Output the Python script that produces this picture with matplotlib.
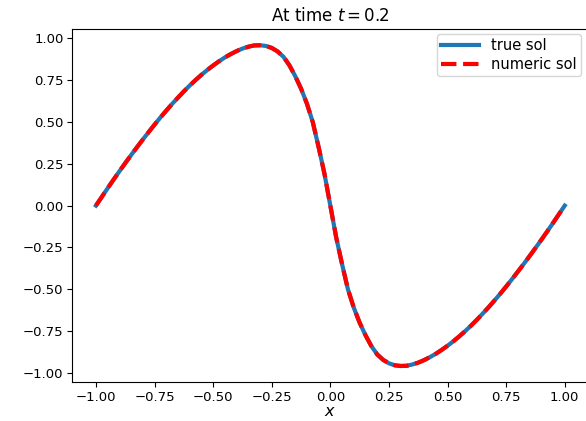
import matplotlib
matplotlib.use('Agg')
import matplotlib.pyplot as plt

# values (true and numeric coincide)
x_vals = [-1.0, -0.975, -0.95, -0.925, -0.9, -0.875, -0.85, -0.825, -0.8, -0.775,
          -0.75, -0.725, -0.7, -0.675, -0.65, -0.625, -0.6, -0.575, -0.55, -0.525,
          -0.5, -0.475, -0.45, -0.425, -0.4, -0.375, -0.35, -0.325, -0.3, -0.275,
          -0.25, -0.225, -0.2, -0.175, -0.15, -0.125, -0.1, -0.075, -0.05, -0.025,
          0.0,
          0.025, 0.05, 0.075, 0.1, 0.125, 0.15, 0.175, 0.2, 0.225, 0.25,
          0.275, 0.3, 0.325, 0.35, 0.375, 0.4, 0.425, 0.45, 0.475, 0.5,
          0.525, 0.55, 0.575, 0.6, 0.625, 0.65, 0.675, 0.7, 0.725, 0.75,
          0.775, 0.8, 0.825, 0.85, 0.875, 0.9, 0.925, 0.95, 0.975, 1.0]
true_sol = [0.0, 0.052, 0.104, 0.155, 0.205, 0.254, 0.302, 0.349, 0.395, 0.44,
            0.484, 0.527, 0.568, 0.608, 0.646, 0.683, 0.718, 0.751, 0.782, 0.811,
            0.838, 0.863, 0.886, 0.906, 0.924, 0.939, 0.95, 0.958, 0.959, 0.955,
            0.943, 0.922, 0.89, 0.84, 0.775, 0.70, 0.61, 0.50, 0.35, 0.19,
            0.0,
            -0.19, -0.35, -0.50, -0.61, -0.70, -0.775, -0.84, -0.89, -0.922, -0.943,
            -0.955, -0.959, -0.958, -0.95, -0.939, -0.924, -0.906, -0.886, -0.863, -0.838,
            -0.811, -0.782, -0.751, -0.718, -0.683, -0.646, -0.608, -0.568, -0.527, -0.484,
            -0.44, -0.395, -0.349, -0.302, -0.254, -0.205, -0.155, -0.104, -0.052, 0.0]
numeric_sol = list(true_sol)

fig = plt.figure(figsize=(5.86, 4.21), dpi=100)
ax = fig.add_axes([0.1237, 0.0926, 0.88, 0.838])

ax.plot(x_vals, true_sol, color='tab:blue', lw=3, label='true sol')
ax.plot(x_vals, numeric_sol, 'r--', lw=3, label='numeric sol')

ax.set_title('At time $t = 0.2$', fontsize=12)
ax.set_xlabel('$x$', fontsize=11.5, labelpad=0)
ax.set_xticks([-1.0, -0.75, -0.5, -0.25, 0.0, 0.25, 0.5, 0.75, 1.0])
ax.set_yticks([-1.0, -0.75, -0.5, -0.25, 0.0, 0.25, 0.5, 0.75, 1.0])
ax.tick_params(labelsize=9.5, pad=3)

ax.legend(loc='upper right', bbox_to_anchor=(581 / 586, 1 - 34 / 421),
          bbox_transform=fig.transFigure, fontsize=10.5, borderaxespad=0,
          handlelength=2.6, labelspacing=0.25, borderpad=0.3)

fig.savefig('out.png', dpi=100)
